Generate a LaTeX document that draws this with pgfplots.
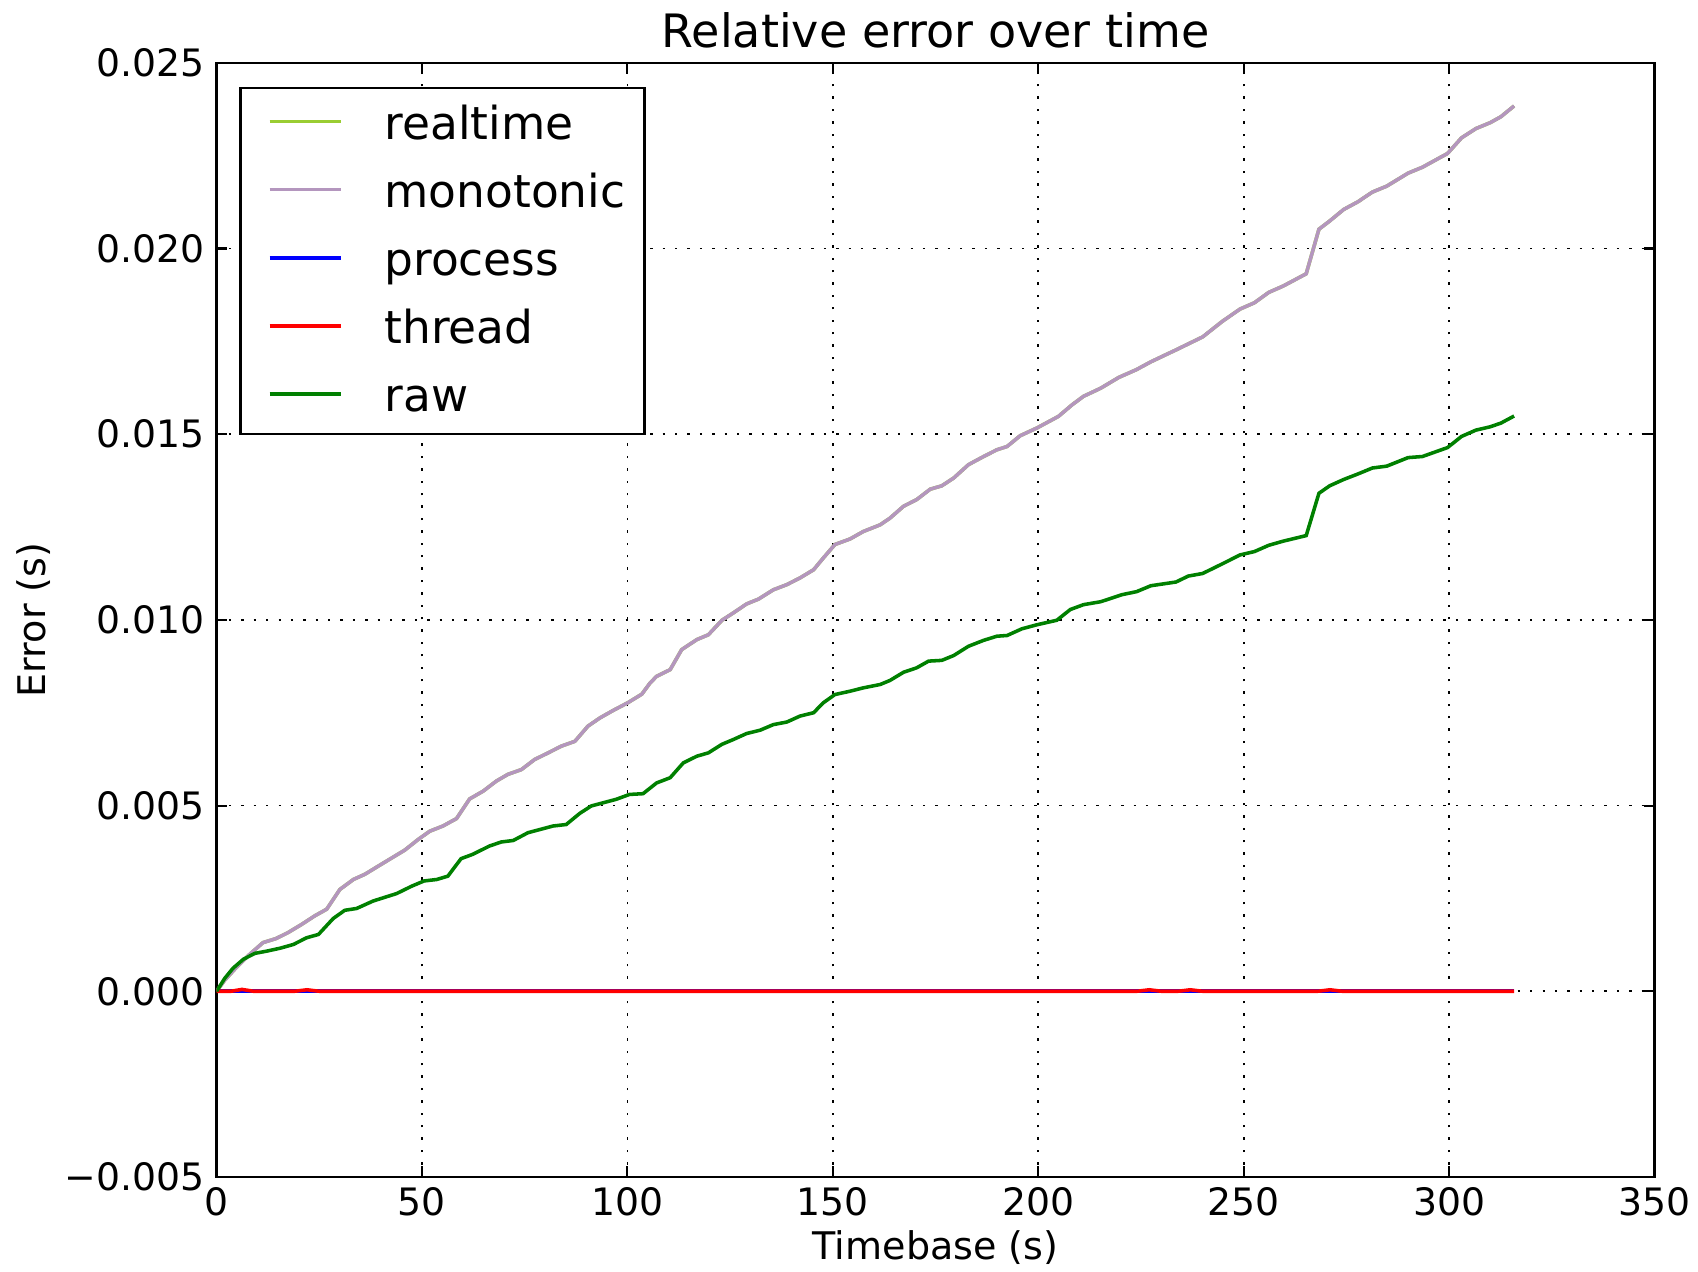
\documentclass[border=0pt]{standalone}
\usepackage{fontspec}
\setmainfont{DejaVu Sans}
\usepackage{pgfplots}
\usepackage{pgfplotstable}
\pgfplotsset{compat=1.18}
\definecolor{rtcol}{RGB}{154,205,50}
\definecolor{monocol}{RGB}{180,150,190}
\definecolor{proccol}{RGB}{0,0,255}
\definecolor{thrcol}{RGB}{255,0,0}
\definecolor{rawcol}{RGB}{0,128,0}

\pgfplotstableread{
x y
0 0
2 0.0003
4.4 0.00059
7.6 0.00095
11.3 0.00131
14.5 0.00142
17.4 0.00158
20.7 0.0018
23.9 0.00203
26.8 0.00221
30 0.00274
33.3 0.00301
36.1 0.00315
40.1 0.00342
45.8 0.0038
49.1 0.00409
51.9 0.00431
55.1 0.00445
58.4 0.00465
61.6 0.00518
64.9 0.00539
68.1 0.00566
70.9 0.00584
74.2 0.00597
77.4 0.00624
80.7 0.00642
83.9 0.0066
87.2 0.00673
90.4 0.00714
93.3 0.00736
96.5 0.00756
100.1 0.00777
103.5 0.0080
105.5 0.0083
107.1 0.00848
110.4 0.00866
113.2 0.0092
116.9 0.00947
119.7 0.0096
123 0.00999
125.8 0.01019
129 0.01043
131.9 0.01056
135.5 0.01081
138.8 0.01095
142 0.01113
145.3 0.01135
147.7 0.01167
150.5 0.01203
154.2 0.01218
157.4 0.01238
161.5 0.01256
163.9 0.01274
167.2 0.01306
170.4 0.01324
173.7 0.01352
176.5 0.01361
179.4 0.01382
183 0.01418
186.7 0.0144
189.9 0.01458
192.4 0.01467
195.6 0.01496
199.7 0.01517
204.9 0.01548
208.2 0.01579
211 0.01602
215.2 0.01624
219.6 0.01653
223.9 0.01674
227.4 0.01695
233.5 0.01727
240 0.01762
244.8 0.01804
249.1 0.01837
252.6 0.01854
256.1 0.01882
259.6 0.01899
265.2 0.01932
268.3 0.02052
270.9 0.02074
274.3 0.02105
277.8 0.02126
281.3 0.02152
284.8 0.02168
290 0.02203
293.5 0.02219
299.6 0.02256
303 0.02298
306.5 0.02323
310 0.02339
312.6 0.02355
315.8 0.02384
}\monotable

\pgfplotstableread{
x y
0 0
2 0.00035
4 0.00062
6.5 0.00086
9.3 0.00102
12.2 0.00108
15.5 0.00116
18.7 0.00126
21.9 0.00144
24.8 0.00153
28.4 0.00196
31.2 0.00218
34.1 0.00223
38.1 0.00243
43.8 0.00263
47.5 0.00283
50.5 0.00297
53.6 0.00301
56.3 0.0031
59.5 0.00357
62.4 0.00369
66.4 0.00391
69.3 0.00402
72.2 0.00406
75.8 0.00427
81.9 0.00445
85.1 0.00449
88.4 0.00479
91.2 0.00499
97.3 0.00517
100.5 0.0053
103.8 0.00532
107.1 0.00561
110.4 0.00575
113.6 0.00615
116.9 0.00633
119.7 0.00642
123 0.00665
125.8 0.00678
129 0.00694
132.3 0.00703
135.5 0.00718
138.8 0.00725
142 0.00741
145.3 0.0075
147.7 0.00777
150.5 0.00799
154.2 0.00808
157.4 0.00817
161.5 0.00826
163.9 0.00837
167.2 0.00859
170.4 0.00871
173.3 0.00889
176.5 0.00891
179.4 0.00904
183 0.00929
186.7 0.00945
189.9 0.00956
192.4 0.00958
196 0.00976
199.7 0.00987
204.5 0.00999
207.8 0.01028
211 0.01041
215.2 0.01049
220.4 0.01068
223.9 0.01076
227.4 0.01092
233.5 0.01102
236.5 0.01118
240 0.01125
244.8 0.01151
249.1 0.01175
252.6 0.01184
256.1 0.01201
259.6 0.01212
265.2 0.01227
268.3 0.01341
270.9 0.01361
274.3 0.01378
277.8 0.01393
281.3 0.01409
284.8 0.01414
290 0.01437
293.5 0.0144
299.6 0.01464
303 0.01494
306.5 0.01511
310 0.0152
312.6 0.0153
315.8 0.01549
}\rawtable

\pgfplotstableread{
x y
0 0
50 0
100 0
150 0
200 0
250 0
300 0
315.8 0
}\proctable

\pgfplotstableread{
x y
0 0
3.5 0
6.2 0.00005
9 0
19 0
22 0.00004
25 0
224 0
227 0.00004
230 0
234 0
237 0.00004
240 0
268 0
271 0.00004
274 0
315.8 0
}\thrtable

\begin{document}
\begin{tikzpicture}
\begin{axis}[
  scale only axis,
  width=487.4pt, height=377.6pt,
  xmin=0, xmax=350, ymin=-0.005, ymax=0.025,
  xtick={0,50,100,150,200,250,300,350},
  xticklabels={0,50,100,150,200,250,300,350},
  ytick={-0.005,0,0.005,0.01,0.015,0.02,0.025},
  yticklabels={−0.005,0.000,0.005,0.010,0.015,0.020,0.025},
  scaled y ticks=false,
  scaled x ticks=false,
  tick align=inside,
  major tick length=3.7pt,
  every tick/.style={black, line width=0.7pt},
  axis line style={black, line width=0.9pt},
  grid=major,
  major grid style={black, line width=0.6pt, dash pattern=on 0.8pt off 3.4pt},
  ticklabel style={font=\fontsize{12.8}{14}\selectfont},
  yticklabel style={xshift=-0.6pt},
  title={Relative error over time},
  title style={font=\fontsize{15.6}{18}\selectfont, at={(axis description cs:0.5,1)}, anchor=base, yshift=-0.7pt},
  xlabel={Timebase (s)},
  xlabel style={font=\fontsize{12.9}{15}\selectfont, at={(axis description cs:0.5,0)}, anchor=base, yshift=-27.9pt},
  ylabel={Error (s)},
  ylabel style={font=\fontsize{12.9}{15}\selectfont, at={(axis description cs:-0.119,0.5)}, anchor=base},
  legend cell align=left,
  legend style={at={(axis description cs:0.0158,0.9786)}, anchor=north west,
    draw=black, line width=0.9pt, fill=white,
    font=\fontsize{15.4}{18}\selectfont,
    inner xsep=6.5pt, inner ysep=5.6pt, row sep=9.4pt, column sep=14.3pt,
    nodes={inner sep=0pt, text height=11.7pt, text depth=2pt}},
  legend image code/.code={\path[draw=none] (0pt,0pt) (27.4pt,0pt); \draw[#1, line width=1.2pt] (3.3pt,1.1pt) -- (27.4pt,1.1pt);},
]
\addplot[rtcol, line width=1.2pt] table[x=x,y=y] {\monotable};
\addlegendentry{realtime}
\addplot[monocol, line width=1.2pt] table[x=x,y=y] {\monotable};
\addlegendentry{monotonic}
\addplot[proccol, line width=1.2pt] table[x=x,y=y] {\proctable};
\addlegendentry{process}
\addplot[thrcol, line width=1.2pt] table[x=x,y=y] {\thrtable};
\addlegendentry{thread}
\addplot[rawcol, line width=1.2pt] table[x=x,y=y] {\rawtable};
\addlegendentry{raw}
\end{axis}
\pgfresetboundingbox
\useasboundingbox ([shift={(-73.4pt,-32pt)}]current axis.south west) rectangle ([shift={(14.7pt,21.3pt)}]current axis.north east);
\end{tikzpicture}
\end{document}
